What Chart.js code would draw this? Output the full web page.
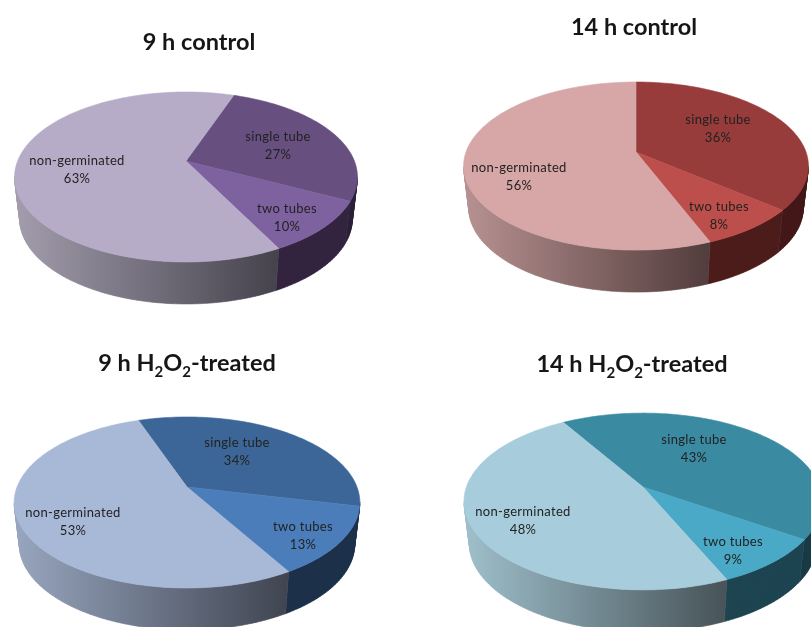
<!DOCTYPE html>
<html>
<head>
<meta charset="utf-8">
<title>Germination</title>
<script src="https://cdn.jsdelivr.net/npm/chart.js@4"></script>
<style>
    html, body { margin: 0; background: #fff; }
    #page { position: relative; width: 811px; height: 627px; overflow: hidden; background: #fff; }
    #page canvas { position: absolute; }
    .title {
        position: absolute;
        transform: translate(-50%, -50%);
        font: 700 23.5px Lato, sans-serif;
        color: #161616;
        white-space: nowrap;
        line-height: 30px;
    }
    .title sub { font-size: 15px; line-height: 0; }
</style>
</head>
<body>
<div id="page"></div>
<script>
const sliceNames = ["single tube", "two tubes", "non-germinated"];
const control9h = [27, 10, 63];
const control14h = [36, 8, 56];
const treated9h = [34, 13, 53];
const treated14h = [43, 9, 48];
const titles = [
    "9 h control",
    "14 h control",
    "9 h H<sub>2</sub>O<sub>2</sub>-treated",
    "14 h H<sub>2</sub>O<sub>2</sub>-treated",
];

// placement and look of each pie: x/y is the apex, tilt is the vertical radius,
// skew is the perspective strength
const pies = [
    {
        values: control9h, x: 186, y: 161, radius: 168.4, tilt: 82, skew: 0.188, rotation: 19.5,
        titleAt: [199, 41],
        labelAt: [[92, -24], [101, 48], [-109, 0]],
        top: ["#674f80", "#7e62a0", "#b7acc7"],
        wall: ["#2c1f38", "#33233f", ["#a39dad", "#45424c"]],
    },
    {
        values: control14h, x: 636, y: 152, radius: 170, tilt: 81.7, skew: 0.167, rotation: 0,
        titleAt: [634, 26],
        labelAt: [[82, -32], [83, 55], [-117, 16]],
        top: ["#973c3a", "#bc4f4c", "#d7a7a7"],
        wall: ["#431817", "#4c1c1b", ["#b89292", "#523c3c"]],
    },
    {
        values: treated9h, x: 187, y: 487, radius: 170, tilt: 82.7, skew: 0.181, rotation: -19.5,
        titleAt: [187, 362],
        labelAt: [[50, -44], [116, 40], [-114, 26]],
        top: ["#3d6698", "#4b7dba", "#a8b9d8"],
        wall: ["#19293f", "#1d304a", ["#98a6bf", "#3f4450"]],
    },
    {
        values: treated14h, x: 643, y: 487, radius: 176.6, tilt: 86, skew: 0.164, rotation: -31,
        titleAt: [632, 363],
        labelAt: [[51, -47], [90, 55], [-120, 25]],
        top: ["#3a8aa2", "#49a9c6", "#a7cddc"],
        wall: ["#183a44", "#1d4450", ["#9fc0cc", "#475358"]],
    },
];

const wallDepth = 42;
const wallNarrowing = 0.97;
const lineGap = 18;

// circle point on the top face (or the bottom rim) seen in perspective
function project(arc, pie, angle, frac, lower) {
    const u = Math.cos(angle) * frac;
    const v = Math.sin(angle) * frac;
    const w = 1 - pie.skew * v;
    const narrow = lower ? wallNarrowing : 1;
    return {
        x: arc.x + (arc.outerRadius * u * narrow) / w,
        y: arc.y + (pie.tilt * v) / w + (lower ? wallDepth : 0),
    };
}

function rimPoints(arc, pie, lower) {
    const points = [];
    const steps = Math.max(2, Math.ceil((arc.endAngle - arc.startAngle) * 40));
    for (let i = 0; i <= steps; i++) {
        const a = arc.startAngle + ((arc.endAngle - arc.startAngle) * i) / steps;
        points.push(project(arc, pie, a, 1, lower));
    }
    return points;
}

function addPolygon(ctx, points) {
    points.forEach((p, i) => (i ? ctx.lineTo(p.x, p.y) : ctx.moveTo(p.x, p.y)));
    ctx.closePath();
}

// the wall is a sweep of front-facing quads, all in one path so no seams show
function drawWall(ctx, arc, pie, color) {
    const upper = rimPoints(arc, pie, false);
    const lower = rimPoints(arc, pie, true);
    let paint = color;
    if (Array.isArray(color)) {
        // lighter on the left, darkening towards the front cut
        const from = arc.x - (arc.outerRadius * 1.02);
        const to = project(arc, pie, arc.startAngle, 1, false).x;
        paint = ctx.createLinearGradient(from, 0, to, 0);
        paint.addColorStop(0, color[0]);
        paint.addColorStop(1, color[1]);
    }
    ctx.beginPath();
    for (let i = 0; i < upper.length - 1; i++) {
        if (upper[i + 1].x < upper[i].x) {
            addPolygon(ctx, [upper[i], upper[i + 1], lower[i + 1], lower[i]]);
        }
    }
    ctx.fillStyle = paint;
    ctx.strokeStyle = paint;
    ctx.lineWidth = 0.6;
    ctx.fill();
    ctx.stroke();
}

function drawTop(ctx, arc, pie, color) {
    ctx.beginPath();
    addPolygon(ctx, [{ x: arc.x, y: arc.y }].concat(rimPoints(arc, pie, false)));
    ctx.fillStyle = color;
    ctx.strokeStyle = color;
    ctx.lineWidth = 0.6;
    ctx.fill();
    ctx.stroke();
}

const perspectivePie = {
    id: "perspectivePie",
    beforeDatasetsDraw(chart) {
        const ctx = chart.ctx;
        const pie = chart.options.plugins.perspectivePie.pie;
        const arcs = chart.getDatasetMeta(0).data;
        ctx.save();
        arcs.forEach((arc, i) => drawWall(ctx, arc, pie, pie.wall[i]));
        arcs.forEach((arc, i) => drawTop(ctx, arc, pie, pie.top[i]));

        ctx.fillStyle = "#222";
        ctx.font = "13px Lato, sans-serif";
        ctx.letterSpacing = "0.3px";
        ctx.textAlign = "center";
        ctx.textBaseline = "middle";
        arcs.forEach((arc, i) => {
            const lx = arc.x + pie.labelAt[i][0];
            const ly = arc.y + pie.labelAt[i][1];
            ctx.fillText(chart.data.labels[i], lx, ly);
            ctx.fillText(chart.data.datasets[0].data[i] + "%", lx, ly + lineGap);
        });
        ctx.restore();
        return false;
    },
};

window.onload = function () {
    const page = document.getElementById("page");
    const canvasW = 380;
    const canvasH = 320;

    pies.forEach((pie, n) => {
        const canvas = document.createElement("canvas");
        canvas.width = canvasW;
        canvas.height = canvasH;
        canvas.style.left = pie.x - canvasW / 2 + "px";
        canvas.style.top = pie.y - canvasH / 2 + "px";
        page.appendChild(canvas);

        new Chart(canvas.getContext("2d"), {
            type: "pie",
            data: {
                labels: sliceNames,
                datasets: [{ data: pie.values, backgroundColor: pie.top, borderWidth: 0 }],
            },
            options: {
                responsive: false,
                animation: false,
                rotation: pie.rotation,
                radius: pie.radius,
                events: [],
                plugins: {
                    legend: { display: false },
                    tooltip: { enabled: false },
                    perspectivePie: { pie: pie },
                },
            },
            plugins: [perspectivePie],
        });

        const title = document.createElement("div");
        title.className = "title";
        title.innerHTML = titles[n];
        title.style.left = pie.titleAt[0] + "px";
        title.style.top = pie.titleAt[1] + "px";
        page.appendChild(title);
    });
};
</script>
</body>
</html>
